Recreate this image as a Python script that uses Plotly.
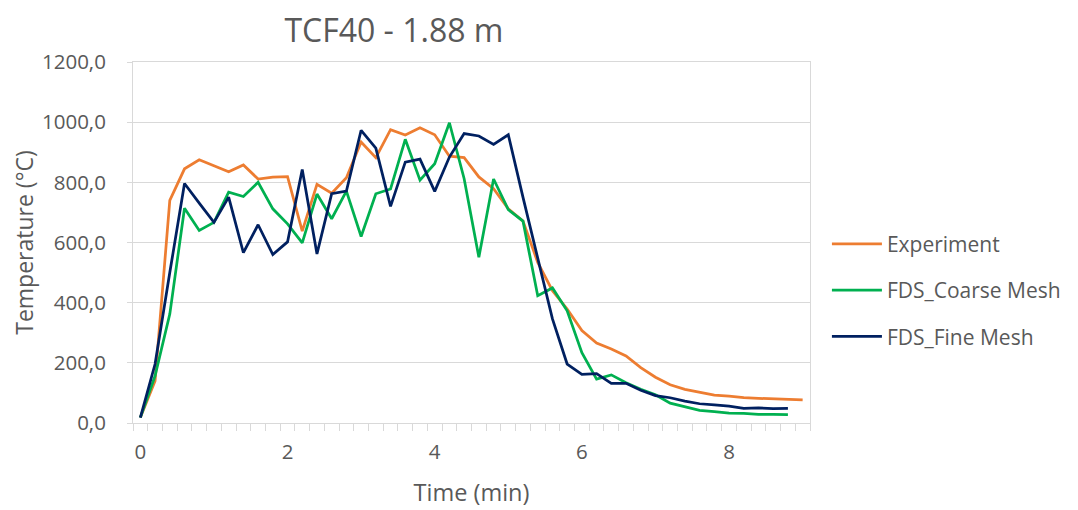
import plotly.graph_objects as go

time_min = [round(i * 0.2, 1) for i in range(46)]

experiment = [18, 140, 740, 845, 875, 855, 835, 858, 811, 817, 819, 638, 793, 764, 815,
              934, 882, 975, 957, 981, 958, 887, 882, 818, 779, 712, 671, 534, 440, 379,
              307, 266, 246, 223, 184, 152, 127, 112, 103, 93, 89, 84, 82, 81, 79, 77]

coarse = [18, 157, 362, 714, 640, 667, 767, 753, 800, 712, 662, 599, 761, 679, 771,
          620, 762, 778, 943, 807, 862, 998, 812, 551, 811, 709, 671, 423, 449, 373,
          234, 146, 160, 134, 112, 94, 66, 53, 42, 38, 33, 32, 29, 29, 28]

fine = [18, 196, 500, 796, 731, 667, 751, 566, 659, 560, 602, 843, 562, 762, 771,
        973, 914, 720, 867, 877, 770, 884, 962, 954, 926, 958, 750, 551, 346, 196,
        162, 164, 132, 132, 109, 91, 84, 73, 64, 60, 56, 49, 50, 48, 49]

series_names = ["Experiment", "FDS_Coarse Mesh", "FDS_Fine Mesh"]
series_colors = ["#ED7D31", "#00B050", "#002060"]
series_values = [experiment, coarse, fine]

x_tick_vals = [0, 2, 4, 6, 8]
x_tick_text = ["0", "2", "4", "6", "8"]

FONT = "Open Sans"
GREY = "#595959"
GRID = "#d9d9d9"

fig = go.Figure()
for name, color, vals in zip(series_names, series_colors, series_values):
    fig.add_trace(go.Scatter(
        x=time_min[:len(vals)], y=vals, mode="lines", name=name,
        legendgroup=name,
        line=dict(color=color, width=2.75),
    ))

fig.update_layout(
    width=1078, height=510,
    margin=dict(l=125, r=276, t=54, b=95),
    paper_bgcolor="white", plot_bgcolor="white",
    separators=",.",
    font=dict(family=FONT, color=GREY, size=20.5),
    title=dict(text="TCF40 - 1.88 m", x=0.358, xanchor="center", y=0.956, yanchor="middle",
               font=dict(family=FONT, size=32, color=GREY)),
    showlegend=True,
    legend=dict(x=1.025, xanchor="left", y=0.368, yanchor="middle",
                font=dict(family=FONT, size=21, color=GREY),
                tracegroupgap=16, itemwidth=50, bgcolor="rgba(0,0,0,0)"),
    xaxis=dict(
        range=[-0.1, 9.1], tickmode="array", tickvals=x_tick_vals, ticktext=x_tick_text,
        showgrid=False, zeroline=False, showline=True, linecolor=GRID, linewidth=1,
        mirror=True, ticks="", ticklabelstandoff=10, automargin=False,
        minor=dict(ticks="outside", tick0=-0.1, dtick=0.2, ticklen=7, tickcolor=GRID,
                   tickwidth=1, showgrid=False),
        title=dict(text="Time (min)", font=dict(family=FONT, size=23.5, color=GREY), standoff=20),
        tickfont=dict(family=FONT, size=20.5, color=GREY),
    ),
    yaxis=dict(
        range=[0, 1200], tickmode="linear", tick0=0, dtick=200, tickformat=".1f",
        showgrid=True, gridcolor=GRID, gridwidth=1, zeroline=False,
        showline=True, linecolor=GRID, linewidth=1, mirror=True, automargin=False,
        ticks="outside", ticklen=5, tickcolor=GRID, ticklabelstandoff=17,
        title=dict(text="Temperature (°C)", font=dict(family=FONT, size=23, color=GREY), standoff=20),
        tickfont=dict(family=FONT, size=20.5, color=GREY),
    ),
)

fig.write_html("out.html")
